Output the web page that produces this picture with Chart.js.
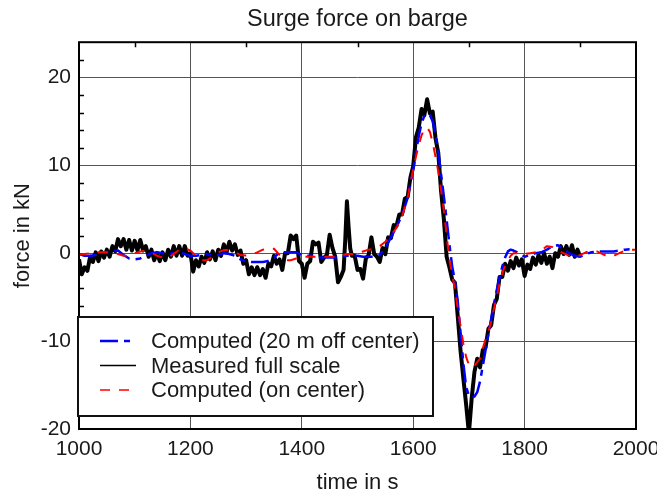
<!DOCTYPE html>
<html>
<head>
<meta charset="utf-8">
<script src="https://cdn.jsdelivr.net/npm/chart.js@4"></script>
<style>
    body   { margin: 0; background: #fff; }
    canvas { display: block; }
</style>
</head>
<body>
<canvas id="surge-chart" width="657" height="496"></canvas>
<script>
// ───────────────────────── DATA ─────────────────────────
const measuredTime = [
    1000, 1005, 1010, 1015, 1020, 1025, 1030, 1035, 1040, 1045, 1050, 1055, 1060, 1065, 1070, 1075,
    1080, 1085, 1090, 1095, 1100, 1105, 1110, 1115, 1120, 1125, 1130, 1135, 1140, 1145, 1150, 1155,
    1160, 1165, 1170, 1175, 1180, 1185, 1190, 1195, 1200, 1205, 1210, 1215, 1220, 1225, 1230, 1235,
    1240, 1245, 1250, 1255, 1260, 1265, 1270, 1275, 1280, 1285, 1290, 1295, 1300, 1305, 1310, 1315,
    1320, 1325, 1330, 1335, 1340, 1345, 1350, 1355, 1360, 1365, 1370, 1375, 1380, 1385, 1390, 1395,
    1400, 1405, 1410, 1415, 1420, 1425, 1430, 1435, 1440, 1445, 1450, 1455, 1460, 1465, 1470, 1475,
    1478, 1481, 1484, 1487, 1490, 1495, 1500, 1505, 1510, 1515, 1520, 1525, 1530, 1535, 1540, 1545,
    1550, 1555, 1560, 1565, 1570, 1575, 1580, 1585, 1590, 1595, 1600, 1605, 1610, 1615, 1620, 1625,
    1630, 1635, 1640, 1645, 1650, 1655, 1660, 1665, 1670, 1675, 1680, 1685, 1690, 1695, 1700, 1705,
    1710, 1715, 1720, 1725, 1730, 1735, 1740, 1745, 1750, 1755, 1760, 1765, 1770, 1775, 1780, 1785,
    1790, 1795, 1800, 1805, 1810, 1815, 1820, 1825, 1830, 1835, 1840, 1845, 1850, 1855, 1860, 1865,
    1870, 1875, 1880, 1885, 1890, 1895, 1900
];
const measuredForce = [
    -0.7, -2.4, -1.6, -2.0, -0.4, -1.0, 0.1, -0.9, 0.2, -0.5, 0.4, -0.4, 0.8, 0.2, 1.6, 0.8,
    1.6, 0.4, 1.5, 0.3, 1.4, 0.3, 1.5, 0.3, 0.8, -0.4, 0.4, -0.8, 0.0, -0.9, 0.1, -0.8,
    0.4, -0.4, 0.8, -0.3, 0.8, -0.3, 0.8, -0.3, 0.0, -2.1, -0.8, -1.5, -0.4, -1.1, 0.1, -0.7,
    0.2, -0.8, 0.4, -0.3, 1.0, 0.1, 1.3, 0.3, 1.0, -0.2, 0.3, -1.2, -0.8, -2.4, -1.6, -2.5,
    -1.6, -2.5, -1.8, -2.8, -1.2, -1.5, -0.3, -1.2, -0.7, -1.9, 0.0, 0.0, 2.0, 1.6, 2.0, -0.9,
    -1.2, -2.8, -1.2, -0.9, 1.3, 1.0, 1.2, -1.0, -0.5, -0.2, 2.1, 0.6, -0.4, -3.3, -2.7, -1.9,
    1.5, 5.9, 3.0, 0.5, -0.3, -0.3, -1.9, -1.8, -2.9, -0.6, -0.2, 1.8, -0.1, -0.4, -1.0, 0.6,
    -0.1, 1.8, 1.7, 3.2, 3.1, 4.4, 4.4, 6.2, 6.4, 8.6, 9.9, 13.2, 14.3, 16.4, 15.7, 17.5,
    15.9, 16.1, 13.1, 11.4, 7.1, 3.9, -0.4, -1.6, -3.0, -3.4, -7.2, -11.1, -14.2, -17.2, -20.5, -16.5,
    -13.5, -12.0, -13.0, -11.0, -10.7, -8.6, -8.2, -5.9, -5.2, -2.7, -2.7, -1.2, -2.0, -0.9, -1.7, -0.5,
    -1.4, -0.7, -2.6, -1.3, -1.8, -0.5, -1.3, -0.2, -1.1, 0.0, -1.2, -0.4, -1.7, 0.0, -0.4, 0.8,
    -0.1, 0.8, -0.2, 0.9, -0.4, 0.4, -0.4
];

const computedTime = [
    1000, 1010, 1020, 1030, 1040, 1050, 1060, 1070, 1080, 1090, 1100, 1110, 1120, 1130, 1140, 1150,
    1160, 1170, 1180, 1190, 1200, 1210, 1220, 1230, 1240, 1250, 1260, 1270, 1280, 1290, 1300, 1310,
    1320, 1330, 1340, 1350, 1360, 1370, 1380, 1390, 1400, 1410, 1420, 1430, 1440, 1450, 1460, 1470,
    1480, 1490, 1500, 1510, 1520, 1530, 1540, 1550, 1560, 1570, 1580, 1590, 1600, 1605, 1610, 1615,
    1620, 1625, 1630, 1635, 1640, 1645, 1650, 1655, 1660, 1665, 1670, 1675, 1680, 1685, 1690, 1695,
    1700, 1705, 1710, 1715, 1720, 1725, 1730, 1735, 1740, 1745, 1750, 1755, 1760, 1765, 1770, 1775,
    1780, 1790, 1800, 1810, 1820, 1830, 1840, 1850, 1860, 1870, 1880, 1890, 1900, 1910, 1920, 1930,
    1940, 1950, 1960, 1970, 1980, 1990, 2000
];
const offCenterForce = [   // computed, 20 m off center (blue)
    -0.1, -0.3, -0.3, -0.2, 0.0, 0.1, 0.2, 0.3, -0.2, -0.6, -0.7, -0.6, -0.3, 0.0, 0.1, 0.0,
    -0.1, 0.0, 0.1, -0.1, -0.3, -0.3, -0.2, -0.1, -0.3, -0.2, 0.0, -0.1, -0.3, -0.7, -0.9, -1.0,
    -1.0, -1.0, -0.9, -0.5, 0.1, 0.1, 0.1, 0.1, -0.2, -0.3, -0.3, -0.5, -0.5, -0.5, -0.5, -0.4,
    -0.3, -0.3, -0.3, -0.4, -0.4, -0.4, -0.2, 0.6, 1.8, 3.0, 4.3, 6.3, 9.5, 11.5, 13.3, 14.8,
    15.6, 15.9, 15.7, 15.0, 13.5, 11.6, 9.0, 6.5, 3.8, 1.0, -1.5, -3.2, -5.5, -9.0, -12.5, -15.2,
    -16.2, -16.4, -16.3, -15.8, -14.6, -12.8, -11.0, -9.2, -7.5, -5.8, -4.2, -2.8, -1.5, -0.5, 0.2, 0.4,
    0.3, 0.0, -0.4, -0.2, 0.0, 0.1, 0.4, 0.8, 0.9, 0.5, 0.0, -0.3, -0.4, -0.1, 0.1, 0.2,
    0.2, 0.2, 0.2, 0.3, 0.4, 0.45, 0.5
];
const onCenterForce = [    // computed, on center (red)
    -0.15, -0.1, 0.0, 0.1, 0.1, 0.1, 0.0, -0.1, -0.3, -0.3, 0.0, 0.2, 0.3, 0.1, -0.3, -0.5,
    -0.5, -0.1, 0.4, 0.55, 0.3, -0.3, -0.8, -0.8, -0.4, 0.1, 0.35, 0.35, 0.1, -0.2, -0.25, -0.2,
    0.1, 0.4, 0.55, 0.5, -0.2, -0.8, -0.8, -0.6, -0.4, -0.4, -0.4, -0.4, -0.4, -0.4, -0.4, -0.3,
    -0.1, -0.1, 0.0, 0.2, 0.4, 0.5, 0.8, 1.3, 2.0, 2.9, 4.2, 6.3, 9.5, 11.0, 12.3, 13.4,
    14.1, 14.3, 13.8, 12.6, 11.0, 9.3, 7.2, 4.8, 2.0, -0.8, -2.4, -4.2, -6.3, -8.3, -10.3, -11.8,
    -12.7, -13.0, -12.8, -12.4, -12.0, -10.8, -9.8, -8.9, -7.8, -6.3, -5.0, -3.5, -2.3, -1.4, -0.8, -0.3,
    0.0, 0.0, -0.1, 0.0, 0.1, 0.3, 0.8, 0.7, 0.3, 0.0, -0.3, -0.4, -0.2, 0.1, 0.3, 0.2,
    -0.1, -0.4, -0.3, 0.0, 0.3, 0.4, 0.4
];

const xTicks      = [1000, 1200, 1400, 1600, 1800, 2000];
const yTicks      = [-20, -10, 0, 10, 20];
const xMinorTicks = [1100, 1300, 1500, 1700, 1900];
const yMinorTicks = [-18, -16, -14, -12, -8, -6, -4, -2, 2, 4, 6, 8, 12, 14, 16, 18, 22];

const FONT = "'Liberation Sans', Arial, sans-serif";

// ───────────────────────── FRAME, MINOR TICKS, LEGEND BOX ─────────────────────────
const framePlugin = {
    id: "frame",
    afterDatasetsDraw(chart) {
        const { ctx, chartArea: a, scales: { x, y } } = chart;
        ctx.save();

        // small inward ticks on left and top edges
        ctx.strokeStyle = "#000";
        ctx.lineWidth   = 1.5;
        ctx.beginPath();
        yMinorTicks.forEach(v => {
            const py = Math.round(y.getPixelForValue(v)) + 0.5;
            ctx.moveTo(a.left, py); ctx.lineTo(a.left + 5, py);
        });
        xMinorTicks.forEach(v => {
            const px = Math.round(x.getPixelForValue(v)) + 0.5;
            ctx.moveTo(px, a.top); ctx.lineTo(px, a.top + 5);
        });
        ctx.stroke();

        // plot frame
        ctx.lineWidth = 2;
        ctx.strokeRect(a.left, a.top, a.right - a.left, a.bottom - a.top);

        // legend box in lower left corner
        const bx = a.left - 1, by = a.bottom - 112, bw = 355, bh = 99;
        ctx.fillStyle = "#fff";
        ctx.fillRect(bx, by, bw, bh);
        ctx.strokeStyle = "#111";
        ctx.lineWidth   = 2;
        ctx.strokeRect(bx, by, bw, bh);

        ctx.font         = "22px " + FONT;
        ctx.textBaseline = "alphabetic";
        ctx.textAlign    = "left";
        chart.data.datasets.forEach((ds, i) => {
            const base = by + 31 + i * 24.5;
            const ly   = base - 7;
            ctx.strokeStyle = ds.borderColor;
            ctx.lineWidth   = ds.legendWidth;
            ctx.setLineDash(ds.borderDash || []);
            ctx.beginPath();
            ctx.moveTo(bx + 22, ly); ctx.lineTo(bx + 58, ly);
            ctx.stroke();
            ctx.setLineDash([]);
            ctx.fillStyle = "#1a1a1a";
            ctx.fillText(ds.label, bx + 73, base);
        });

        ctx.restore();
    }
};

// ───────────────────────── CHART ─────────────────────────
const toPoints = (xs, ys) => xs.map((t, i) => ({ x: t, y: ys[i] }));

const ctx = document.getElementById("surge-chart").getContext("2d");
new Chart(ctx, {
    type: "line",
    data: {
        datasets: [
            {
                label:       "Computed (20 m off center)",
                data:        toPoints(computedTime, offCenterForce),
                borderColor: "#0000ff",
                borderWidth: 2.5,
                borderDash:  [18, 6, 6, 6],
                legendWidth: 2.5,
                order:       2
            },
            {
                label:       "Measured full scale",
                data:        toPoints(measuredTime, measuredForce),
                borderColor: "#000000",
                borderWidth: 4,
                legendWidth: 1.5,
                order:       3
            },
            {
                label:       "Computed (on center)",
                data:        toPoints(computedTime, onCenterForce),
                borderColor: "#ff0000",
                borderWidth: 2,
                borderDash:  [10, 9],
                legendWidth: 1.5,
                order:       1
            }
        ]
    },
    options: {
        responsive:       false,
        animation:        false,
        devicePixelRatio: 1,
        layout:  { padding: { left: 0, right: 21, top: 0, bottom: 0 } },
        elements: {
            point: { radius: 0 },
            line:  { tension: 0, fill: false, borderJoinStyle: "round" }
        },
        scales: {
            x: {
                type: "linear",
                min:  1000,
                max:  2000,
                afterBuildTicks: s => { s.ticks = xTicks.map(v => ({ value: v })); },
                afterFit:        s => { s.height = 67; s.paddingLeft = 0; s.paddingRight = 0; },
                ticks:  { color: "#1a1a1a", font: { family: FONT, size: 21 }, padding: 8, maxRotation: 0,
                          callback: v => String(v) },
                grid:   { color: "#555", lineWidth: 1, drawTicks: false },
                border: { display: false },
                title:  { display: true, text: "time in s", color: "#1a1a1a",
                          font: { family: FONT, size: 22 }, padding: { top: 0, bottom: 0 } }
            },
            y: {
                min: -20,
                max: 24,
                afterBuildTicks: s => { s.ticks = yTicks.map(v => ({ value: v })); },
                afterFit:        s => { s.width = 79; s.paddingTop = 0; s.paddingBottom = 0; },
                ticks:  { color: "#1a1a1a", font: { family: FONT, size: 21 }, padding: 8 },
                grid:   { color: "#555", lineWidth: 1, drawTicks: false },
                border: { display: false },
                title:  { display: true, text: "force in kN", color: "#1a1a1a",
                          font: { family: FONT, size: 22 }, padding: { top: 10, bottom: 0 } }
            }
        },
        plugins: {
            legend:  { display: false },
            tooltip: { enabled: false },
            title: {
                display:  true,
                text:     "Surge force on barge",
                fullSize: false,
                color:    "#1a1a1a",
                font:     { family: FONT, size: 23.5, weight: "normal" },
                padding:  { top: 5, bottom: 9 }
            }
        }
    },
    plugins: [framePlugin]
});
</script>
</body>
</html>
